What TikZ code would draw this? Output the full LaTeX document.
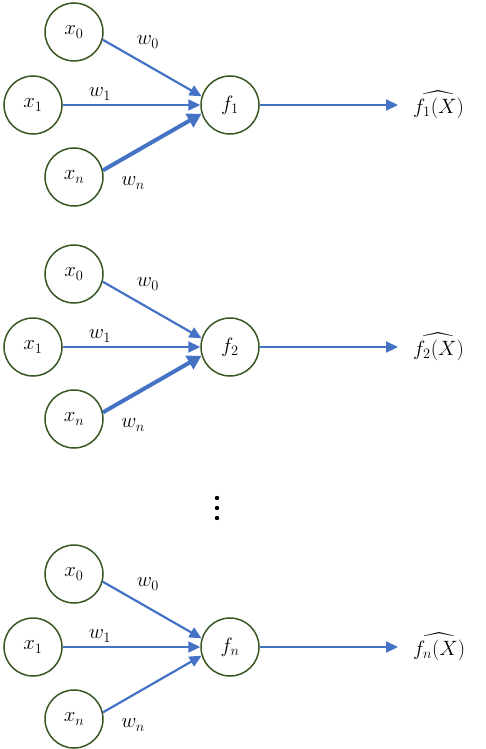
\documentclass[tikz,border=0pt]{standalone}
\usepackage{amsmath}
\usepackage{xcolor}
\definecolor{nnblue}{RGB}{68,114,196}
\definecolor{nngreen}{RGB}{56,87,35}
\usetikzlibrary{arrows.meta, positioning}

\begin{document}
\begin{tikzpicture}[x=1pt, y=-1pt,
    neuron/.style={circle, draw=nngreen, line width=1.5pt, minimum size=58pt,
      inner sep=0pt, font=\huge},
    wlabel/.style={inner sep=1pt, font=\huge},
    wire/.style={nnblue, line width=2.2pt, -{Triangle[length=12pt, width=11pt]}},
    wirebold/.style={nnblue, line width=4pt, -{Triangle[length=14pt, width=15pt]}}]
  \useasboundingbox (0,0) rectangle (485,749);
  % one block per output neuron
  \foreach \dy/\k/\wn in {0/1/wirebold, 242/2/wirebold, 542/n/wire} {
    \begin{scope}[shift={(0,\dy)}]
      \node[neuron] (x0) at (74,32) {$x_0$};
      \node[neuron] (x1) at (33,105) {$x_1$};
      \node[neuron] (xn) at (74,177) {$x_n$};
      \node[neuron] (f) at (230,105) {$f_{\k}$};
      \node[wlabel, anchor=west] (out) at (412,105) {$\widehat{f_{\k}(X)}$};
      \draw[wire] (x0.-15) -- (f.163);
      \draw[wire] (x1) -- (f);
      \draw[\wn] (xn.13) -- (f.197);
      \draw[wire, shorten >=14pt] (f) -- (out);
      \node[wlabel] (w0) at (148,42) {$w_0$};
      \node[wlabel] (w1) at (100,94) {$w_1$};
      \node[wlabel] (wn) at (133,183) {$w_n$};
    \end{scope}
  }
  % dots between blocks
  \foreach \d in {498,508,518}
    \fill (217,\d) circle (2.2pt);
\end{tikzpicture}
\end{document}
